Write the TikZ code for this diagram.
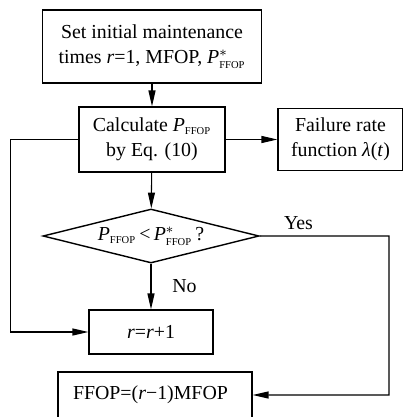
\documentclass[tikz,border=0pt]{standalone}
\usepackage{fontspec}
\setmainfont{Liberation Serif}
\usetikzlibrary{arrows.meta,shapes.geometric}

\newcommand\Pf{\textit{P}\ensuremath{_{\hbox{\fontsize{6}{6}\selectfont FFOP}}}}
\newcommand\Ps{\textit{P}\ensuremath{^{*}_{\hbox{\fontsize{6}{6}\selectfont FFOP}}}}

\begin{document}
\begin{tikzpicture}[node distance=1.9cm, >={Triangle[length=9pt,width=4pt]},
    font=\fontsize{11.3}{14}\selectfont]
    \tikzstyle{component} = [rectangle, draw, line width=0.8pt, align=center, inner sep=0pt]
    \tikzstyle{decision} = [diamond, draw, line width=0.8pt, aspect=4, inner sep=0pt]
    \tikzstyle{link} = [->, line width=0.6pt]
  \useasboundingbox (0,0) rectangle (8.06,-8.34);
  \node[component, minimum width=4.37cm, minimum height=1.46cm] (init) at (3.04,-0.93)
       {Set initial maintenance\\times \textit{r}=1, MFOP, \Ps};
  \node[component, below of=init, yshift=0.04cm, minimum width=2.92cm, minimum height=1.3cm] (calc)
       {Calculate \Pf\\by Eq. (10)};
  \node[component, right of=calc, xshift=1.87cm, minimum width=2.5cm, minimum height=1.24cm] (rate)
       {Failure rate\\function \textit{λ}(\textit{t})};
  \node[decision, below of=calc, xshift=-0.02cm, yshift=-0.03cm, minimum width=4.32cm, minimum height=1.08cm] (check)
       {\Pf\,<\,\Ps\,?};
  \node[component, below of=check, yshift=-0.02cm, minimum width=2.48cm, minimum height=0.88cm] (incr)
       {\textit{r}=\textit{r}+1};
  \node[component, below of=incr, xshift=0.08cm, yshift=0.64cm, minimum width=3.88cm, minimum height=0.92cm,
        text width=3.28cm, align=left] (ffop)
       {FFOP=(\textit{r}−1)MFOP};
  \coordinate (yes) at (7.78,-4.72);
  \draw[link] (init) -- (calc);
  \draw[link] (calc) -- (rate);
  \draw[link] (calc) -- (check);
  \draw[link] (check) -- node[right, xshift=0.3cm]{No} (incr);
  \draw[link] (calc.west) -- ++(-1.36,0) |- (incr.west);
  \draw[link] (check.east) -- node[above, pos=0.3]{Yes} (yes) |- (ffop.east);
  \end{tikzpicture}
\end{document}
